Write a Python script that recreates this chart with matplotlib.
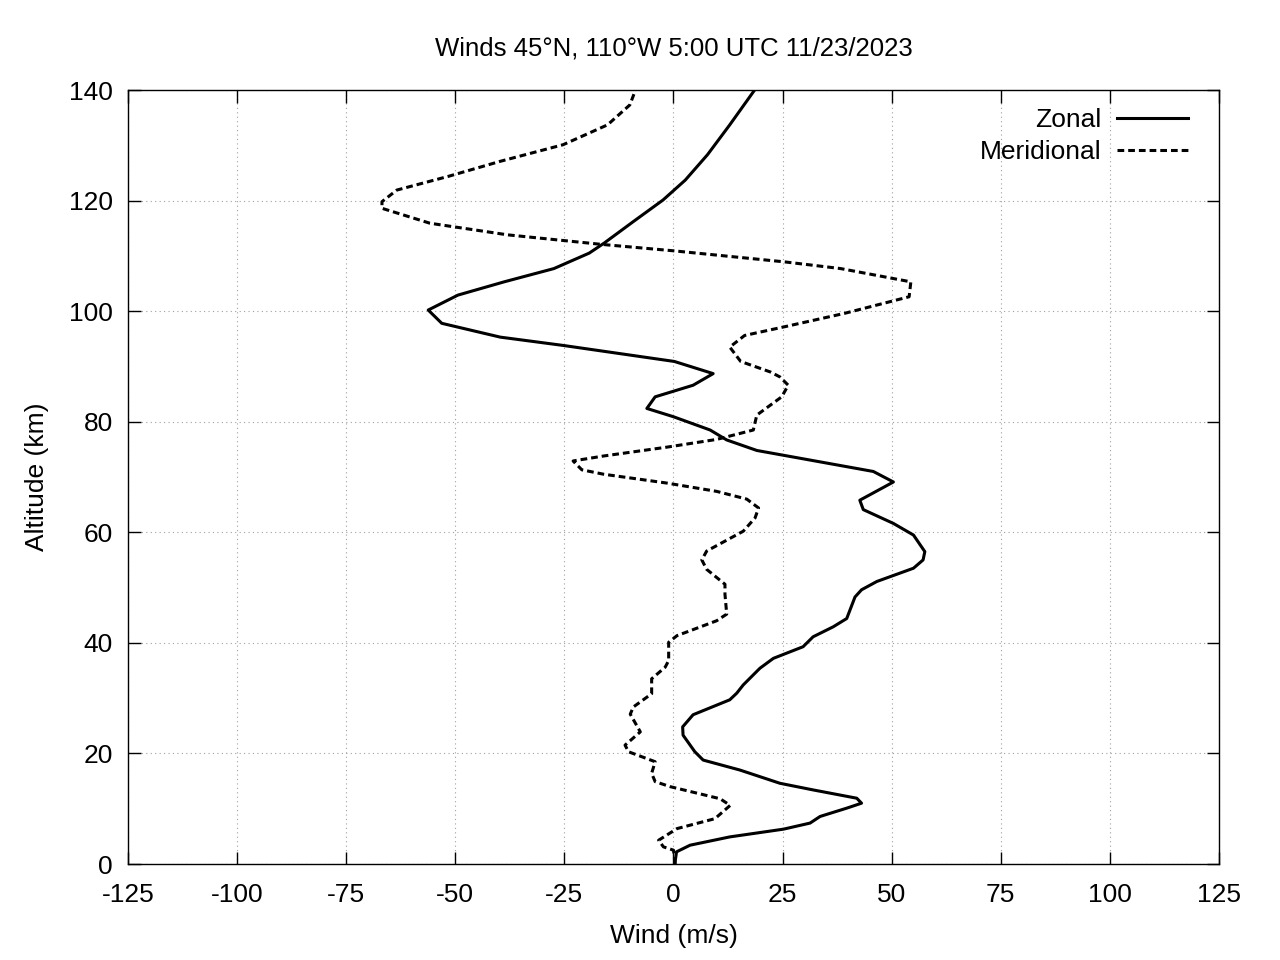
import matplotlib
matplotlib.use('Agg')
import matplotlib.pyplot as plt

plt.rcParams['font.family'] = ['Liberation Sans', 'DejaVu Sans']
plt.rcParams['axes.unicode_minus'] = False

# Zonal wind profile (m/s) vs altitude (km)
zonal_wind = [0.3, 0.7, 3.8, 12.9, 25.2, 31.3, 33.6, 39.7, 43.1, 42.0, 32.0, 24.4,
              15.2, 6.8, 4.9, 2.2, 2.1, 4.5, 12.9, 14.5, 16.0, 19.8, 22.9, 29.7,
              32.0, 36.6, 39.7, 41.6, 43.1, 46.6, 55.0, 57.2, 57.6, 55.0, 50.4,
              43.5, 42.7, 50.4, 45.8, 19.1, 12.2, 8.4, 0.0, -6.1, -4.2, 4.5, 9.1,
              0.2, -25.3, -39.7, -53.1, -56.2, -49.4, -38.8, -27.4, -19.3, -15.9,
              -9.2, -2.4, 2.7, 7.8, 12.9, 18.6]
zonal_alt = [0.0, 2.2, 3.4, 4.9, 6.3, 7.4, 8.6, 10.1, 11.0, 11.9, 13.4, 14.6,
             17.0, 18.8, 20.3, 23.3, 24.8, 27.0, 29.7, 30.9, 32.4, 35.4, 37.2, 39.3,
             41.1, 42.9, 44.4, 48.3, 49.6, 51.1, 53.5, 55.0, 56.5, 59.5, 61.6,
             64.1, 65.8, 69.1, 71.0, 74.8, 76.7, 78.5, 80.9, 82.4, 84.5, 86.6, 88.7,
             90.9, 93.8, 95.3, 97.8, 100.2, 102.9, 105.3, 107.7, 110.5, 112.3,
             116.2, 120.1, 123.7, 128.3, 133.7, 140.0]

# Meridional wind profile (m/s) vs altitude (km)
merid_wind = [0.4, 0.0, -2.3, -3.4, 0.8, 9.5, 13.0, 10.7, -0.8, -4.2, -5.0, -4.2,
              -10.3, -11.1, -7.6, -9.9, -9.2, -5.0, -5.0, -1.9, -1.1, -1.1, 0.8,
              9.9, 12.2, 11.8, 11.8, 7.6, 6.5, 7.6, 16.0, 18.7, 19.5, 16.8, 9.9,
              -1.5, -16.0, -21.0, -23.0, -16.0, -1.5, 9.9, 18.3, 19.1, 24.8, 26.3,
              24.4, 22.2, 15.4, 12.9, 16.3, 25.6, 39.2, 54.0, 54.4, 38.3, 25.6,
              0.2, -16.8, -38.0, -55.8, -66.8, -66.8, -63.4, -51.5, -39.7, -25.3,
              -15.1, -10.0, -8.7]
merid_alt = [0.0, 2.5, 3.1, 4.3, 6.4, 8.2, 10.6, 11.8, 14.0, 14.9, 16.4, 18.5,
             20.3, 21.5, 23.9, 27.1, 28.4, 30.8, 33.5, 35.6, 36.8, 40.1, 41.3,
             44.0, 45.2, 48.8, 50.6, 53.3, 55.0, 56.6, 60.2, 62.6, 64.4, 66.0,
             67.4, 68.9, 70.5, 71.3, 72.9, 73.8, 75.4, 76.8, 78.5, 81.2, 84.5,
             86.6, 88.1, 89.0, 90.9, 93.5, 95.6, 97.2, 99.6, 102.6, 105.3, 107.7,
             108.9, 110.9, 112.1, 113.8, 115.9, 118.6, 119.8, 121.9, 124.4, 127.1,
             130.1, 133.7, 137.3, 140.0]

fig = plt.figure(figsize=(12.8, 9.6), dpi=100)
ax = fig.add_axes([0.1, 0.1, 0.8523, 0.80625])

ax.plot(zonal_wind, zonal_alt, color='black', lw=2.2, label='Zonal')
ax.plot(merid_wind, merid_alt, color='black', lw=2.2, linestyle=(0, (2.2, 1.3)),
        label='Meridional')

ax.set_xlim(-125, 125)
ax.set_ylim(0, 140)
ax.set_xticks(range(-125, 126, 25))
ax.set_yticks(range(0, 141, 20))
ax.tick_params(direction='in', length=9, width=1, top=True, right=True,
               labelsize=19)
ax.tick_params(axis='x', pad=14)
ax.tick_params(axis='y', pad=11)
ax.grid(True, color='#a0a0a0', linestyle=(0, (1, 3)), lw=0.8)
for s in ax.spines.values():
    s.set_linewidth(1)

ax.set_xlabel('Wind (m/s)', fontsize=19, labelpad=12)
ax.set_ylabel('Altitude (km)', fontsize=19, labelpad=14)
ax.set_title('Winds 45°N, 110°W 5:00 UTC 11/23/2023', fontsize=18.5, pad=25)

leg = ax.legend(loc='upper right', bbox_to_anchor=(1 - 15 / 1091, 1 - 2 / 774),
                frameon=False, markerfirst=False, fontsize=19,
                handlelength=2.7, borderaxespad=0.2, labelspacing=0.3,
                handletextpad=0.6)

fig.savefig('out.png', dpi=100)
